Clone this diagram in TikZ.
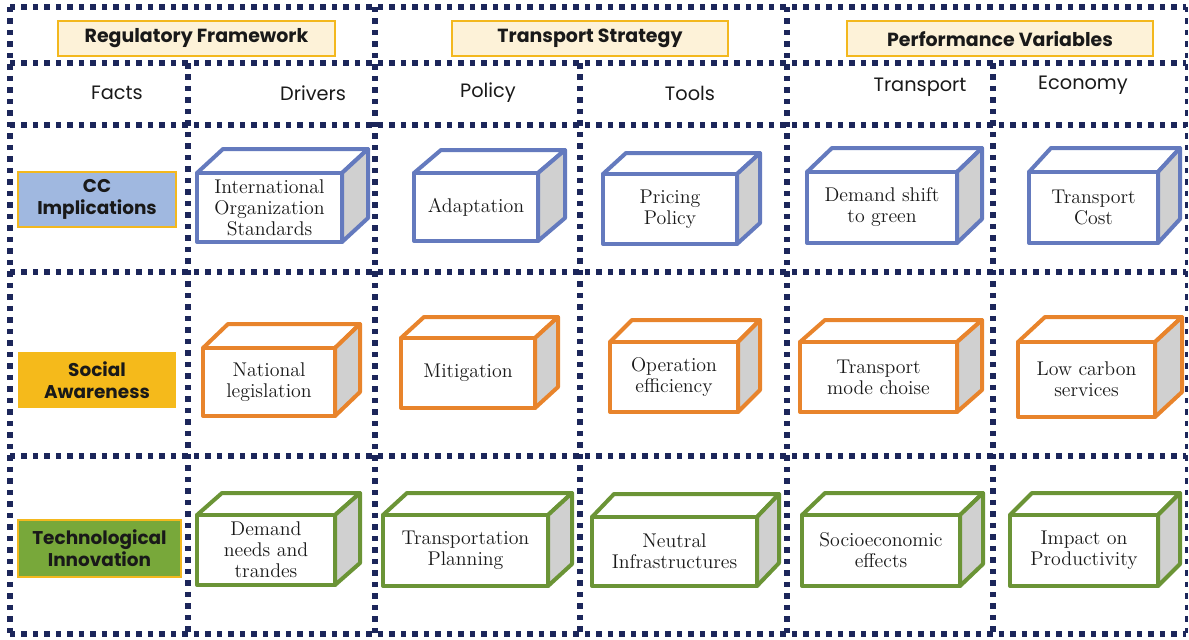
\documentclass[tikz,border=0pt]{standalone}
\usepackage{fontspec}
\usetikzlibrary{calc}
\newfontfamily\gothicfont{Poppins}
\definecolor{navy}{RGB}{28,38,90}
\definecolor{gold}{RGB}{243,184,30}
\definecolor{cream}{RGB}{253,242,216}
\definecolor{ink}{RGB}{25,25,25}
\definecolor{cblue}{RGB}{100,122,190}
\definecolor{corange}{RGB}{232,132,44}
\definecolor{cgreen}{RGB}{107,148,54}
\definecolor{sidegray}{RGB}{208,208,208}
\definecolor{ccfill}{RGB}{160,184,224}
\definecolor{safill}{RGB}{245,186,27}
\definecolor{tifill}{RGB}{120,168,58}
\newcommand\cuboid[6]{%
  \coordinate (#1-nw) at (#2);
  \coordinate (#1-se) at (#3);
  \coordinate (#1-ne) at (#1-se |- #1-nw);
  \filldraw[cubeedge=#5, fill=white] (#1-nw) -- ++(#4) -- ($(#1-ne)+(#4)$) -- (#1-ne) -- cycle;
  \filldraw[cubeedge=#5, fill=sidegray] (#1-ne) -- ($(#1-ne)+(#4)$) -- ($(#1-se)+(#4)$) -- (#1-se) -- cycle;
  \filldraw[cubeedge=#5, fill=white] (#1-nw) rectangle (#1-se);
  \node[boxtext] (#1) at ($(#1-nw)!0.5!(#1-se)$) {#6};
}
\begin{document}
\begin{tikzpicture}[x=0.02cm,y=-0.02cm,
  grid/.style={draw=navy, line width=0.12cm, dash pattern=on 0.11cm off 0.12cm},
  headbox/.style={draw=gold, line width=0.045cm, fill=cream, inner sep=0pt, text=ink,
    font=\gothicfont\bfseries\fontsize{10.8}{13}\selectfont},
  colhead/.style={text=ink, inner sep=0pt, font=\gothicfont\fontsize{11}{13}\selectfont},
  rowlab/.style={text=ink, inner sep=0pt, align=center,
    font=\gothicfont\bfseries\fontsize{10.5}{12.5}\selectfont},
  boxtext/.style={text=ink, align=center, inner sep=0pt, font=\fontsize{11.3}{12}\selectfont},
  cubeedge/.style={draw=#1, line width=0.08cm, line join=round},
]
\useasboundingbox (0,0) rectangle (1189,639);
% grid
\draw[grid] (10,7) -- (1186,7);
\draw[grid] (10,63) -- (1186,63);
\draw[grid] (10,125) -- (1186,125);
\draw[grid] (10,272) -- (1186,272);
\draw[grid] (10,456) -- (1186,456);
\draw[grid] (10,634) -- (1186,634);
\draw[grid] (10,7) -- (10,634);
\draw[grid] (375,7) -- (375,634);
\draw[grid] (787,7) -- (787,634);
\draw[grid, line width=0.06cm] (1186,7) -- (1186,634);
\draw[grid] (188,63) -- (188,634);
\draw[grid] (580,63) -- (580,634);
\draw[grid] (993,63) -- (993,634);
% headers
\node[headbox, minimum width=5.54cm, minimum height=0.7cm] (hreg) at (196.5,38.5) {Regulatory Framework};
\node[headbox, minimum width=5.52cm, minimum height=0.7cm] (htra) at (590,38.5) {Transport Strategy};
\node[headbox, minimum width=6.12cm, minimum height=0.7cm] (hper) at (1000,38.5) {Performance Variables};
% column headers
\node[colhead] (facts) at (117,93) {Facts};
\node[colhead] (drivers) at (313,93) {Drivers};
\node[colhead] (policy) at (488,93) {Policy};
\node[colhead] (tools) at (690,93) {Tools};
\node[colhead] (transport) at (920,87) {Transport};
\node[colhead] (economy) at (1083,85) {Economy};
% row labels
\node[rowlab, draw=gold, line width=0.045cm, fill=ccfill, minimum width=3.16cm, minimum height=1.1cm] (cc) at (97,199.5) {CC\\Implications};
\node[rowlab, fill=safill, minimum width=3.16cm, minimum height=1.12cm] (sa) at (97,380) {Social\\Awareness};
\node[rowlab, draw=gold, line width=0.045cm, fill=tifill, minimum width=3.26cm, minimum height=1.14cm] (ti) at (99.5,548.5) {Technological\\Innovation};
% row 1
\cuboid{b11}{197,173}{342,242}{26,-24}{cblue}{International\\Organization\\Standards}
\cuboid{b12}{414,173}{538,241}{27,-23}{cblue}{Adaptation}
\cuboid{b13}{603,174}{737,244}{23,-21}{cblue}{Pricing\\Policy}
\cuboid{b14}{807,172}{957,243}{25,-24}{cblue}{Demand shift\\to green}
\cuboid{b15}{1029,172}{1158,243}{22,-24}{cblue}{Transport\\Cost}
% row 2
\cuboid{b21}{203,348}{335,416}{25,-24}{corange}{National\\legislation}
\cuboid{b22}{401,338}{535,408}{23,-21}{corange}{Mitigation}
\cuboid{b23}{610,342}{738,412}{22,-22}{corange}{Operation\\efficiency}
\cuboid{b24}{800,342}{957,412}{25,-22}{corange}{Transport\\mode choise}
\cuboid{b25}{1018,342}{1155,417}{27,-25}{corange}{Low carbon\\services}
% row 3
\cuboid{b31}{197,515}{335,585}{25,-22}{cgreen}{Demand\\needs and\\trandes}
\cuboid{b32}{383,515}{548,586}{24,-22}{cgreen}{Transportation\\Planning}
\cuboid{b33}{592,517}{757,586}{22,-23}{cgreen}{Neutral\\Infrastructures}
\cuboid{b34}{802,515}{960,586}{23,-22}{cgreen}{Socioeconomic\\effects}
\cuboid{b35}{1010,515}{1158,586}{22,-22}{cgreen}{Impact on\\Productivity}
\end{tikzpicture}
\end{document}
